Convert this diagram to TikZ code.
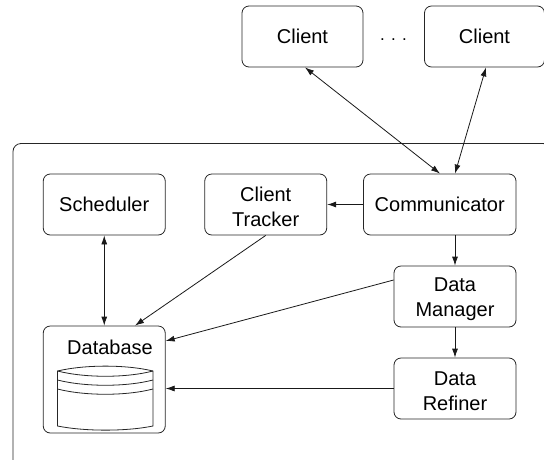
\documentclass[tikz,border=0pt]{standalone}
\usepackage{fontspec}
\setmainfont{Liberation Sans}
\usetikzlibrary{arrows.meta}
\tikzset{
  x=1pt,y=-1pt,
  box/.style={draw=black!85,line width=0.8pt,rounded corners=7pt,inner sep=0pt,align=center,font=\fontsize{20}{25}\selectfont},
  conn/.style={draw=black!90,line width=0.8pt,-{Latex[length=9pt,width=6pt]}},
  bidir/.style={draw=black!90,line width=0.8pt,{Latex[length=9pt,width=6pt]}-{Latex[length=9pt,width=6pt]}},
  cyl/.style={draw=black!85,line width=0.8pt},
}
\newcommand{\nodebox}[6]{\node[box,minimum width=#4 pt,minimum height=#5 pt] (#1) at (#2,#3) {#6};}
\newcommand{\lowerstrut}{\rule{0pt}{18.5pt}}
\begin{document}
\begin{tikzpicture}
\useasboundingbox (0,0) rectangle (544,459);
\clip (0,0) rectangle (544,459);
% outer frame
\draw[draw=black!85,line width=0.8pt,rounded corners=8pt] (13,470) -- (13,143.5) -- (551,143.5) -- (551,170);
% boxes
\nodebox{clienta}{302.5}{36.5}{121}{61}{Client}
\nodebox{clientb}{484.5}{36.5}{120}{61}{Client}
\node[font=\fontsize{17}{20}\selectfont,inner sep=0pt] (dots) at (393.5,40) {. . .};
\nodebox{comm}{439.75}{204.5}{152.5}{61}{Communicator}
\nodebox{sched}{104.25}{204.5}{122}{61}{Scheduler}
\nodebox{track}{265.75}{204.5}{122}{61}{\lowerstrut Client\\Tracker}
\nodebox{dman}{455}{296.5}{122}{61}{\lowerstrut Data\\Manager}
\nodebox{dref}{455}{388.5}{122}{61}{\lowerstrut Data\\Refiner}
\node[box,minimum width=122pt,minimum height=107pt] (db) at (104.25,379.5) {};
\node[font=\fontsize{20}{25}\selectfont,inner sep=0pt] (dblabel) at (110,347) {Database};
% cylinder
\draw[cyl] (57.5,371) .. controls (85,364.5) and (126,364.5) .. (153,371) -- (153,426) .. controls (126,431.5) and (85,431.5) .. (57.5,426) -- cycle;
\draw[cyl] (57.5,371) .. controls (85,378) and (126,378) .. (153,371);
\draw[cyl] (57.5,380) .. controls (85,387) and (126,387) .. (153,380);
\draw[cyl] (57.5,389) .. controls (85,396) and (126,396) .. (153,389);
% connectors
\draw[bidir] ([xshift=2.5pt]clienta.south) -- ([xshift=0.25pt]comm.north);
\draw[bidir] ([xshift=1.5pt]clientb.south) -- ([xshift=15.25pt]comm.north);
\draw[conn] (comm.west) -- (track.east);
\draw[conn] ([xshift=15.25pt]comm.south) -- (dman.north);
\draw[conn] (dman.south) -- (dref.north);
\draw[bidir] (sched.south) -- (sched.south |- db.north);
\draw[conn] (track.south) -- ([xshift=30.75pt]db.north);
\draw[conn] ([yshift=16.5pt]dman.west) -- ([yshift=38.5pt]db.east);
\draw[conn] (dref.west) -- (dref.west -| db.east);
\end{tikzpicture}
\end{document}
